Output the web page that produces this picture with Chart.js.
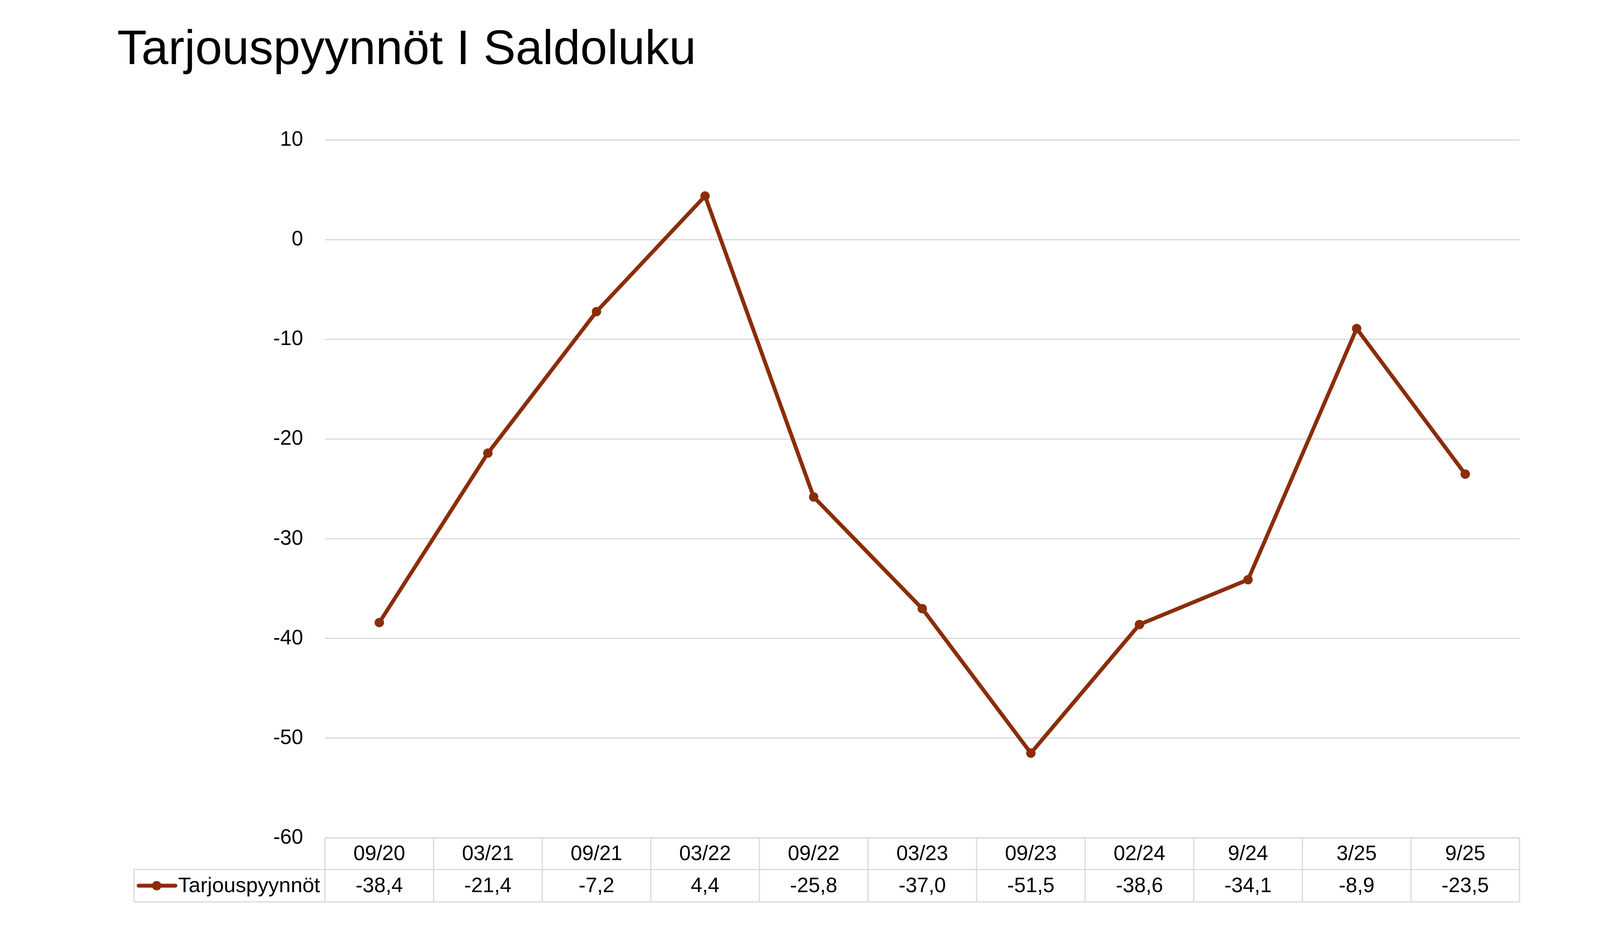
<!DOCTYPE html>
<html>
<head>
<meta charset="utf-8">
<script src="https://cdn.jsdelivr.net/npm/chart.js@4/dist/chart.umd.min.js"></script>
<style>
  html, body { margin: 0; padding: 0; background: #fff; }
  #wrap { width: 4242px; height: 2385px; }
</style>
</head>
<body>
<div id="wrap"><canvas id="chart" width="4242" height="2385"></canvas></div>
<script>
// Data
const categories = ['09/20', '03/21', '09/21', '03/22', '09/22', '03/23', '09/23', '02/24', '9/24', '3/25', '9/25'];
const seriesName = 'Tarjouspyynnöt';
const values = [-38.4, -21.4, -7.2, 4.4, -25.8, -37.0, -51.5, -38.6, -34.1, -8.9, -23.5];
const yTicks = [10, 0, -10, -20, -30, -40, -50, -60];

const FONT = '"Liberation Sans", Arial, sans-serif';
const LINE_COLOR = '#8B2D08';
const GRID_COLOR = '#D9D9D9';

// luku suomalaisella desimaalipilkulla
function fmt(v) {
    return v.toFixed(1).replace('.', ',');
}

// Data table under the plot (Excel style)
const dataTable = {
    id: 'dataTable',
    afterDraw(chart) {
        const ctx = chart.ctx;
        const x = chart.scales.x;
        const area = chart.chartArea;
        const n = categories.length;
        const colW = (area.right - area.left) / n;
        const top = area.bottom;
        const mid = top + 81;
        const bot = top + 164;
        const legLeft = 343;

        ctx.save();
        ctx.strokeStyle = GRID_COLOR;
        ctx.lineWidth = 3;
        ctx.beginPath();
        ctx.moveTo(area.left, top); ctx.lineTo(area.right, top);
        ctx.moveTo(legLeft, mid); ctx.lineTo(area.right, mid);
        ctx.moveTo(legLeft, bot); ctx.lineTo(area.right, bot);
        ctx.moveTo(legLeft, mid); ctx.lineTo(legLeft, bot);
        for (let i = 0; i <= n; i++) {
            const cx = area.left + i * colW;
            ctx.moveTo(cx, top); ctx.lineTo(cx, bot);
        }
        ctx.stroke();

        ctx.fillStyle = '#000';
        ctx.font = '53px ' + FONT;
        ctx.textAlign = 'center';
        ctx.textBaseline = 'middle';
        categories.forEach((c, i) => {
            const px = x.getPixelForValue(i);
            ctx.fillText(c, px, (top + mid) / 2 + 2);
            ctx.fillText(fmt(values[i]), px, (mid + bot) / 2 + 2);
        });

        // legend key
        const ly = (mid + bot) / 2;
        ctx.strokeStyle = LINE_COLOR;
        ctx.lineWidth = 10;
        ctx.lineCap = 'round';
        ctx.beginPath();
        ctx.moveTo(355, ly); ctx.lineTo(449, ly);
        ctx.stroke();
        ctx.fillStyle = LINE_COLOR;
        ctx.beginPath();
        ctx.arc(401, ly, 12, 0, Math.PI * 2);
        ctx.fill();

        ctx.fillStyle = '#000';
        ctx.textAlign = 'left';
        ctx.font = '54px ' + FONT;
        ctx.fillText(seriesName, 456, ly + 2);
        ctx.restore();
    }
};

new Chart(document.getElementById('chart'), {
    type: 'line',
    data: {
        labels: categories,
        datasets: [{
            label: seriesName,
            data: values,
            borderColor: LINE_COLOR,
            backgroundColor: LINE_COLOR,
            borderWidth: 10,
            pointRadius: 12,
            pointBackgroundColor: LINE_COLOR,
            pointBorderWidth: 0,
            tension: 0
        }]
    },
    options: {
        responsive: false,
        animation: false,
        devicePixelRatio: 1,
        layout: { padding: { left: 300, right: 352, top: 0, bottom: 0 } },
        plugins: {
            legend: { display: false },
            tooltip: { enabled: false },
            title: {
                display: true,
                text: 'Tarjouspyynnöt I Saldoluku',
                align: 'start',
                color: '#000',
                font: { family: FONT, size: 124, weight: 'normal', lineHeight: 1.2 },
                padding: { top: 55, bottom: 155 }
            }
        },
        scales: {
            x: {
                offset: true,
                grid: { display: false },
                border: { display: false },
                ticks: { display: false },
                afterFit(scale) { scale.height = 241; }
            },
            y: {
                min: -60,
                max: 10,
                afterBuildTicks(scale) { scale.ticks = yTicks.map(v => ({ value: v })); },
                grid: { color: GRID_COLOR, lineWidth: 3, drawTicks: false },
                border: { display: false },
                ticks: {
                    color: '#000',
                    padding: 56,
                    font: { family: FONT, size: 53 }
                },
                afterFit(scale) { scale.width = 532; }
            }
        }
    },
    plugins: [dataTable]
});
</script>
</body>
</html>
